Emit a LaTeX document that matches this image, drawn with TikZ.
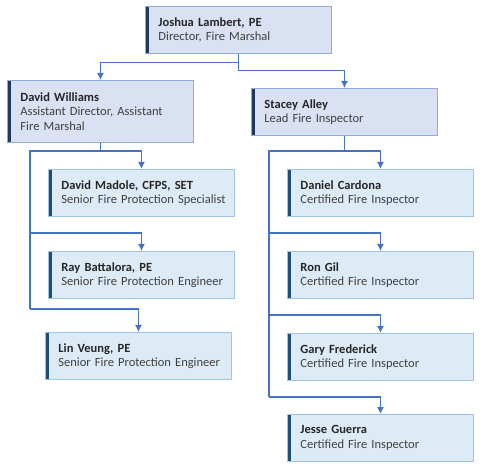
\documentclass[tikz,border=0pt]{standalone}
\usepackage{fontspec}
\setmainfont{Carlito}
\usepackage{tikz}
\usetikzlibrary{arrows.meta,calc}
\definecolor{leadfill}{RGB}{218,225,243}
\definecolor{leadline}{RGB}{143,170,220}
\definecolor{leadbar}{RGB}{31,56,100}
\definecolor{stafffill}{RGB}{221,235,247}
\definecolor{staffline}{RGB}{157,195,230}
\definecolor{staffbar}{RGB}{31,78,121}
\definecolor{linkblue}{RGB}{68,114,196}
\definecolor{namec}{RGB}{38,38,38}
\definecolor{titlec}{RGB}{64,64,64}
\newcommand{\who}[2]{{\color{namec}\textbf{#1}}\\\mbox{#2}}
\hfuzz=20pt

\begin{document}
\begin{tikzpicture}[x=1pt,y=-1pt,>={Latex[length=7pt,width=7pt]},
	card/.style={draw,line width=0.9pt,anchor=north west,minimum width=186pt,minimum height=47pt,
		inner xsep=13pt,text width=160pt,align=left,text=titlec,
		font=\fontsize{12.5}{14.5}\selectfont},
	leadcard/.style={card,fill=leadfill,draw=leadline,
		path picture={\fill[leadbar] (path picture bounding box.south west) rectangle ([xshift=4pt]path picture bounding box.north west);}},
	staffcard/.style={card,fill=stafffill,draw=staffline,
		path picture={\fill[staffbar] (path picture bounding box.south west) rectangle ([xshift=4pt]path picture bounding box.north west);}},
	link/.style={draw=linkblue,line width=1.2pt}]
	\useasboundingbox (0,0) rectangle (480,468);
	% top level
	\node[leadcard] (lambert) at (145,6) {\who{Joshua Lambert, PE}{Director, Fire Marshal}};
	\node[leadcard,minimum height=62pt] (williams) at (7,80) {\who{David Williams}{Assistant Director, Assistant}\\Fire Marshal};
	\node[leadcard] (alley) at (251,88) {\who{Stacey Alley}{Lead Fire Inspector}};
	% left team
	\node[staffcard] (madole) at (48,169) {\who{David Madole, CFPS, SET}{Senior Fire Protection Specialist}};
	\node[staffcard] (battalora) at (48,251) {\who{Ray Battalora, PE}{Senior Fire Protection Engineer}};
	\node[staffcard] (veung) at (45,332) {\who{Lin Veung, PE}{Senior Fire Protection Engineer}};
	% right team
	\node[staffcard] (cardona) at (287,169) {\who{Daniel Cardona}{Certified Fire Inspector}};
	\node[staffcard] (gil) at (287,251) {\who{Ron Gil}{Certified Fire Inspector}};
	\node[staffcard] (frederick) at (287,333) {\who{Gary Frederick}{Certified Fire Inspector}};
	\node[staffcard] (guerra) at (287,414) {\who{Jesse Guerra}{Certified Fire Inspector}};
	\coordinate (lbus) at (30,151);
	\coordinate (rbus) at (269,151);
	% links
	\draw[link,->] (lambert.south) -- ++(0,9) -| (williams.north);
	\draw[link,->] (lambert.south) -- ++(0,17) -| (alley.north);
	\draw[link] (williams.south) |- (lbus) -- ([yshift=23pt]veung.north -| lbus);
	\draw[link] (alley.south) |- (rbus) -- ([yshift=17pt]guerra.north -| rbus);
	\foreach \n in {madole,battalora}
	{
		\draw[link,->] ([yshift=18pt]\n.north -| lbus) -| (\n.north);
	}
	\draw[link,->] ([yshift=23pt]veung.north -| lbus) -| (veung.north);
	\foreach \n in {cardona,gil,frederick}
	{
		\draw[link,->] ([yshift=18pt]\n.north -| rbus) -| (\n.north);
	}
	\draw[link,->] ([yshift=17pt]guerra.north -| rbus) -| (guerra.north);
\end{tikzpicture}
\end{document}
